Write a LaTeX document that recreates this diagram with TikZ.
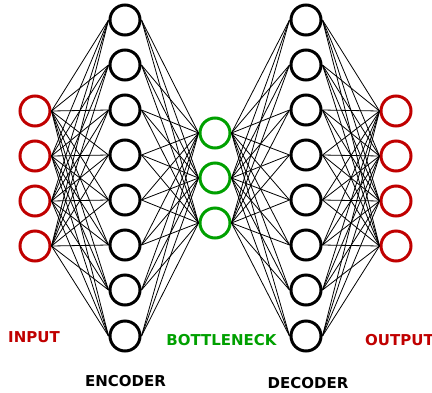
\documentclass[tikz,border=0pt]{standalone}
\usepackage{fontspec}
\setmainfont{DejaVu Sans}
\definecolor{inred}{RGB}{192,0,0}
\definecolor{bgreen}{RGB}{0,160,0}
\begin{document}
\begin{tikzpicture}[x=1pt,y=-1pt,
  neuron/.style={circle,draw,line width=3pt,minimum size=30pt,inner sep=0pt,fill=white},
  inneuron/.style={neuron,draw=inred},
  midneuron/.style={neuron,draw=black},
  botneuron/.style={neuron,draw=bgreen},
  conn/.style={line width=0.8pt,black},
  lbl/.style={font=\fontsize{15}{18}\selectfont\bfseries,inner sep=0pt}]
\useasboundingbox (0,0) rectangle (432,392);
% nodes
\foreach \i/\y in {1/111,2/156,3/201,4/246}{
  \node[inneuron] (i\i) at (35,\y) {};
  \node[inneuron] (o\i) at (396,\y) {};
}
\foreach \i/\y in {1/20,2/65,3/110,4/155,5/200,6/245,7/290,8/336}{
  \node[midneuron] (e\i) at (125,\y) {};
  \node[midneuron] (d\i) at (306,\y) {};
}
\foreach \i/\y in {1/133,2/178,3/223}{
  \node[botneuron] (b\i) at (215,\y) {};
}
% connectors
\begin{scope}[on background layer/.style={}]
\foreach \a in {1,...,4}{\foreach \b in {1,...,8}{
  \draw[conn] (i\a.east) -- (e\b.west);
  \draw[conn] (d\b.east) -- (o\a.west);
}}
\foreach \a in {1,...,8}{\foreach \b in {1,...,3}{
  \draw[conn] (e\a.east) -- (b\b.west);
  \draw[conn] (b\b.east) -- (d\a.west);
}}
\end{scope}
% labels
\node[lbl,text=inred] (tin) at (34,337) {INPUT};
\node[lbl,text=bgreen] (tbot) at (221.5,340) {BOTTLENECK};
\node[lbl,text=inred,anchor=west] (tout) at (365,340) {OUTPUT};
\node[lbl] (tenc) at (125.5,381) {ENCODER};
\node[lbl] (tdec) at (308,383) {DECODER};
\end{tikzpicture}
\end{document}
